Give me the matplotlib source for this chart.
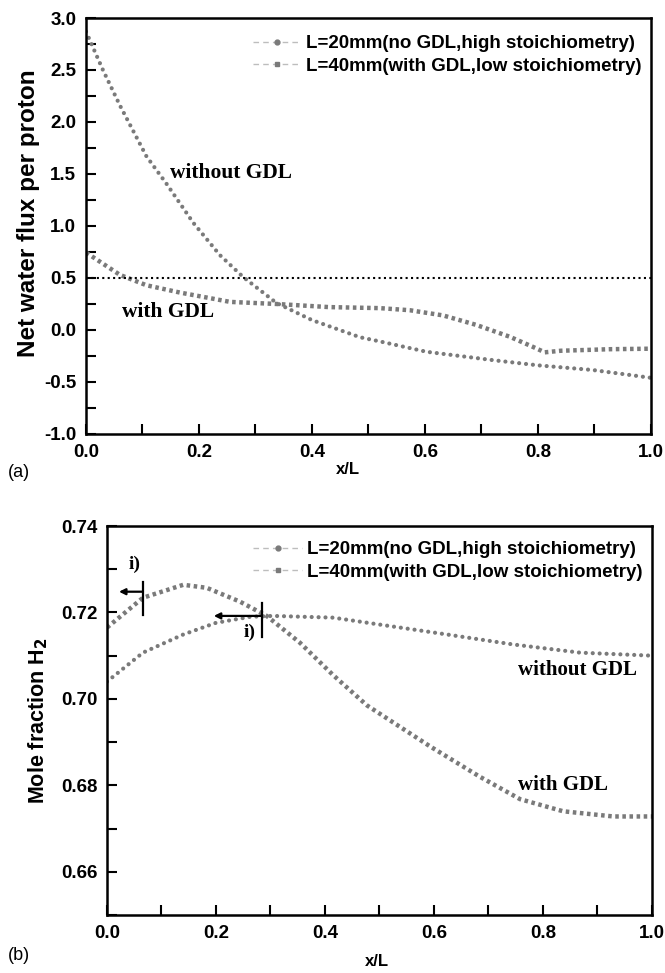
import numpy as np
import matplotlib
matplotlib.use('Agg')
import matplotlib.pyplot as plt
from matplotlib.lines import Line2D
from matplotlib.ticker import MultipleLocator, FormatStrFormatter

# panel (a): net water flux per proton
xa_no = [0.0, 0.03, 0.06, 0.107, 0.142, 0.19, 0.237, 0.278, 0.337, 0.40,
         0.485, 0.52, 0.603, 0.72, 0.80, 0.897, 1.0]
ya_no = [2.87, 2.5, 2.16, 1.67, 1.41, 1.03, 0.72, 0.51, 0.26, 0.095,
         -0.07, -0.11, -0.21, -0.29, -0.34, -0.385, -0.46]
xa_gdl = [0.0, 0.06, 0.107, 0.166, 0.255, 0.337, 0.43, 0.52, 0.573, 0.632,
          0.69, 0.75, 0.79, 0.812, 0.84, 0.927, 1.0]
ya_gdl = [0.745, 0.53, 0.43, 0.36, 0.27, 0.25, 0.22, 0.21, 0.19, 0.14,
          0.05, -0.065, -0.16, -0.215, -0.20, -0.185, -0.18]

# panel (b): mole fraction H2
xb_no = [0.0, 0.066, 0.14, 0.2, 0.263, 0.305, 0.415, 0.5, 0.538, 0.624,
         0.745, 0.868, 1.0]
yb_no = [0.704, 0.7107, 0.7149, 0.7176, 0.719, 0.7192, 0.7188, 0.7172,
         0.7165, 0.7149, 0.7126, 0.7107, 0.710]
xb_gdl = [0.0, 0.066, 0.14, 0.183, 0.244, 0.293, 0.354, 0.415, 0.477,
          0.538, 0.593, 0.684, 0.758, 0.837, 0.929, 1.0]
yb_gdl = [0.7165, 0.7234, 0.7264, 0.7257, 0.7225, 0.7192, 0.713, 0.7055,
          0.6985, 0.6935, 0.689, 0.682, 0.6768, 0.674, 0.6728, 0.6728]

labels = ['L=20mm(no GDL,high stoichiometry)',
          'L=40mm(with GDL,low stoichiometry)']

sans = 'Liberation Sans'
serif = 'Liberation Serif'
gray = '#7a7a7a'

fig = plt.figure(figsize=(6.65, 9.73), dpi=100)
ax1 = fig.add_axes([0.1293, 0.5540, 0.8496, 0.4275])
ax2 = fig.add_axes([0.1609, 0.0596, 0.8195, 0.3998])


def curve(ax, x, y, square):
    if square:
        ax.plot(x, y, color=gray, lw=3.2, ls=(0, (0.8, 0.8)),
                dash_capstyle='butt')
    else:
        ax.plot(x, y, color=gray, lw=3.0, ls=(0, (0.01, 1.65)),
                dash_capstyle='round')


def style(ax):
    for s in ax.spines.values():
        s.set_linewidth(1.8)
    ax.tick_params(which='both', direction='in', length=7, width=1.5,
                   top=False, right=False, pad=7)
    for t in ax.get_xticklabels() + ax.get_yticklabels():
        t.set_fontfamily(sans)
        t.set_fontweight('bold')
        t.set_fontsize(13.5)


def legend(ax, anchor):
    handles = [
        Line2D([], [], color='#bdbdbd', ls=(0, (4, 3)), lw=1.0, marker='o',
               ms=3.5, mfc=gray, mec=gray),
        Line2D([], [], color='#bdbdbd', ls=(0, (4, 3)), lw=1.0, marker='s',
               ms=3.5, mfc=gray, mec=gray),
    ]
    ax.legend(handles, labels, loc='upper right', bbox_to_anchor=anchor,
              frameon=False, numpoints=1, handlelength=2.6, handletextpad=0.25,
              labelspacing=0.28, borderpad=0.3,
              prop={'family': sans, 'weight': 'bold', 'size': 13.5})


# (a)
curve(ax1, xa_no, ya_no, False)
curve(ax1, xa_gdl, ya_gdl, True)
ax1.plot([0, 1], [0.5, 0.5], color='black', lw=1.5, ls=(0, (1, 1.6)))
ax1.set_xlim(0, 1)
ax1.set_ylim(-1.0, 3.0)
ax1.xaxis.set_major_locator(MultipleLocator(0.2))
ax1.xaxis.set_minor_locator(MultipleLocator(0.1))
ax1.yaxis.set_major_locator(MultipleLocator(0.5))
ax1.yaxis.set_minor_locator(MultipleLocator(0.25))
ax1.xaxis.set_major_formatter(FormatStrFormatter('%.1f'))
ax1.yaxis.set_major_formatter(FormatStrFormatter('%.1f'))
style(ax1)
ax1.set_ylabel('Net water flux per proton', family=sans, weight='bold',
               fontsize=17.5)
ax1.yaxis.set_label_coords(-0.081, 0.53)
ax1.text(0.149, 1.51, 'without GDL', family=serif, weight='bold',
         fontsize=15.5, va='center')
ax1.text(0.064, 0.17, 'with GDL', family=serif, weight='bold',
         fontsize=15.5, va='center')
legend(ax1, (1.01, 0.995))

# (b)
curve(ax2, xb_no, yb_no, False)
curve(ax2, xb_gdl, yb_gdl, True)
ax2.set_xlim(0, 1)
ax2.set_ylim(0.65, 0.74)
ax2.xaxis.set_major_locator(MultipleLocator(0.2))
ax2.xaxis.set_minor_locator(MultipleLocator(0.1))
ax2.yaxis.set_major_locator(MultipleLocator(0.02))
ax2.yaxis.set_minor_locator(MultipleLocator(0.01))
ax2.xaxis.set_major_formatter(FormatStrFormatter('%.1f'))
ax2.yaxis.set_major_formatter(FormatStrFormatter('%.2f'))
style(ax2)
ax2.set_ylabel(r'Mole fraction H$_\mathbf{2}$', family=sans, weight='bold',
               fontsize=15.5, labelpad=8)
ax2.text(0.754, 0.7068, 'without GDL', family=serif, weight='bold',
         fontsize=15, va='center')
ax2.text(0.754, 0.680, 'with GDL', family=serif, weight='bold',
         fontsize=15, va='center')
# i) markers
ax2.plot([0.066, 0.066], [0.7195, 0.7271], color='black', lw=1.6)
ax2.annotate('', xy=(0.022, 0.7248), xytext=(0.066, 0.7248),
             arrowprops=dict(arrowstyle='-|>', color='black', lw=1.6,
                             mutation_scale=9, shrinkA=0, shrinkB=0))
ax2.text(0.04, 0.7312, 'i)', family=serif, weight='bold', fontsize=14,
         va='center')
ax2.plot([0.284, 0.284], [0.7144, 0.7222], color='black', lw=1.6)
ax2.annotate('', xy=(0.196, 0.7192), xytext=(0.284, 0.7192),
             arrowprops=dict(arrowstyle='-|>', color='black', lw=1.6,
                             mutation_scale=9, shrinkA=0, shrinkB=0))
ax2.text(0.25, 0.7153, 'i)', family=serif, weight='bold', fontsize=14,
         va='center')
legend(ax2, (1.01, 1.0))

fig.text(348 / 665, 1 - 470 / 973, 'x/L', family=sans, weight='bold',
         fontsize=12, ha='center', va='center')
fig.text(377 / 665, 1 - 962 / 973, 'x/L', family=sans, weight='bold',
         fontsize=12, ha='center', va='center')
fig.text(0.012, 1 - 472 / 973, '(a)', family=sans, fontsize=13, va='center')
fig.text(0.012, 1 - 955 / 973, '(b)', family=sans, fontsize=13, va='center')

fig.savefig('out.png', dpi=100, facecolor='white')
